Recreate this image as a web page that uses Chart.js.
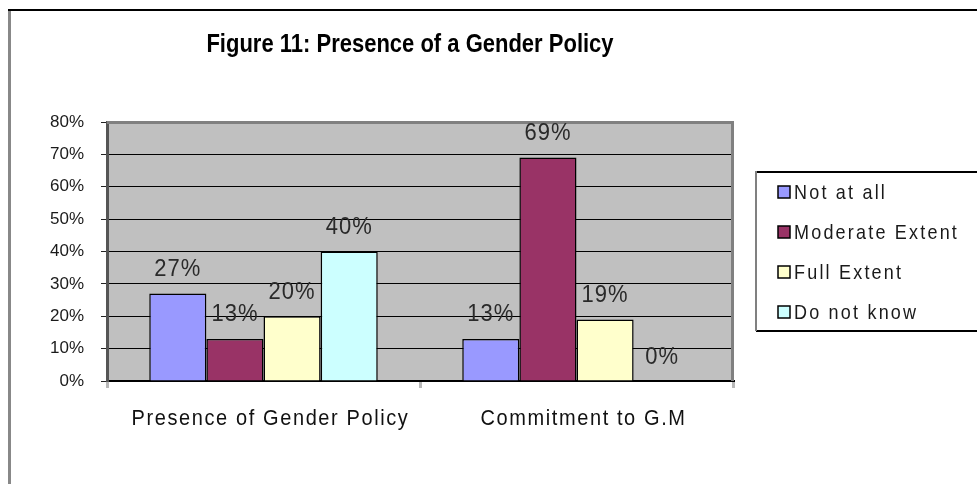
<!DOCTYPE html>
<html><head><meta charset="utf-8">
<script src="https://cdn.jsdelivr.net/npm/chart.js@4.4.0/dist/chart.umd.min.js"></script>
<style>
html,body{margin:0;padding:0;background:#fff;}
#wrap{position:relative;width:977px;height:484px;}
canvas{display:block;}
</style></head><body>
<div id="wrap"><canvas id="c" width="977" height="484"></canvas></div>
<script>
const chartTitle = 'Figure 11: Presence of a Gender Policy';
const categories = ['Presence of Gender Policy', 'Commitment to G.M'];
const seriesNames = ['Not at all', 'Moderate Extent', 'Full Extent', 'Do not know'];
const notAtAll = [27, 13];
const moderateExtent = [13, 69];
const fullExtent = [20, 19];
const doNotKnow = [40, 0];
const yTickLabels = ['0%', '10%', '20%', '30%', '40%', '50%', '60%', '70%', '80%'];
const seriesColors = ['#9999FF', '#993366', '#FFFFCC', '#CCFFFF'];

const FONT = '"Liberation Sans", Arial, sans-serif';

function tallText(ctx, txt, x, y, sy) {
  ctx.save();
  ctx.translate(x, y);
  ctx.scale(1, sy);
  ctx.fillText(txt, 0, 0);
  ctx.restore();
}

const decor = {
  id: 'decor',
  beforeDraw(chart) {
    const ctx = chart.ctx, a = chart.chartArea;
    ctx.save();
    ctx.fillStyle = '#ffffff';
    ctx.fillRect(0, 0, chart.width, chart.height);
    ctx.fillStyle = '#888888';
    ctx.fillRect(8, 10, 3, chart.height - 10);
    ctx.fillStyle = '#000000';
    ctx.fillRect(8, 9, chart.width - 8, 2);
    ctx.fillStyle = '#C0C0C0';
    ctx.fillRect(a.left, a.top, a.right - a.left, a.bottom - a.top);
    ctx.restore();
  },
  beforeDatasetsDraw(chart) {
    const ctx = chart.ctx, a = chart.chartArea;
    ctx.save();
    ctx.fillStyle = '#808080';
    ctx.fillRect(a.left, a.top - 1, a.right - a.left + 1, 3);
    ctx.fillRect(a.right - 2, a.top - 1, 3, a.bottom - a.top + 1);
    ctx.restore();
  },
  afterDatasetsDraw(chart) {
    const ctx = chart.ctx;
    ctx.save();
    ctx.font = '22px ' + FONT;
    ctx.fillStyle = '#2a2a2a';
    ctx.textAlign = 'center';
    ctx.textBaseline = 'middle';
    try { ctx.letterSpacing = '1px'; } catch (e) {}
    chart.data.datasets.forEach((ds, i) => {
      const meta = chart.getDatasetMeta(i);
      meta.data.forEach((el, j) => {
        tallText(ctx, ds.data[j] + '%', el.x, el.y - 24, 1.08);
      });
    });
    const xs = chart.scales.x;
    ctx.font = '20px ' + FONT;
    ctx.fillStyle = '#111';
    try { ctx.letterSpacing = '1.6px'; } catch (e) {}
    chart.data.labels.forEach((lab, i) => {
      tallText(ctx, lab, xs.getPixelForValue(i) + 7, 419, 1.1);
    });
    ctx.restore();
  },
  afterDraw(chart) {
    const ctx = chart.ctx;
    ctx.save();
    ctx.font = 'bold 22px ' + FONT;
    ctx.fillStyle = '#000';
    ctx.textAlign = 'center';
    ctx.textBaseline = 'middle';
    tallText(ctx, chartTitle, 410, 45, 1.15);
    const lx = 756, ly = 172, lb = 331;
    ctx.fillStyle = '#fff';
    ctx.fillRect(lx, ly, chart.width - lx, lb - ly);
    ctx.fillStyle = '#000';
    ctx.fillRect(lx, ly - 1, chart.width - lx, 2);
    ctx.fillRect(lx, lb - 1, chart.width - lx, 2);
    ctx.fillStyle = '#808080';
    ctx.fillRect(lx - 1, ly - 1, 2, lb - ly + 1);
    ctx.font = '18px ' + FONT;
    ctx.textAlign = 'left';
    try { ctx.letterSpacing = '2.2px'; } catch (e) {}
    chart.data.datasets.forEach((ds, i) => {
      const cy = 192 + i * 40;
      ctx.fillStyle = ds.backgroundColor;
      ctx.fillRect(778, cy - 6, 12, 12);
      ctx.strokeStyle = '#000';
      ctx.lineWidth = 1.5;
      ctx.strokeRect(778, cy - 6, 12, 12);
      ctx.fillStyle = '#1a1a1a';
      tallText(ctx, ds.label, 794, cy + 1, 1.12);
    });
    ctx.restore();
  }
};

const series = [notAtAll, moderateExtent, fullExtent, doNotKnow];
new Chart(document.getElementById('c'), {
  type: 'bar',
  data: {
    labels: categories,
    datasets: series.map((d, i) => ({
      label: seriesNames[i],
      data: d,
      backgroundColor: seriesColors[i],
      borderColor: '#000',
      borderWidth: 1.5,
      barPercentage: 1,
      categoryPercentage: 0.73
    }))
  },
  options: {
    responsive: false,
    animation: false,
    devicePixelRatio: 1,
    layout: { padding: { left: 0, top: 122, right: 244, bottom: 103 } },
    plugins: { legend: { display: false }, title: { display: false }, tooltip: { enabled: false } },
    scales: {
      x: {
        offset: true,
        grid: { drawOnChartArea: false, drawTicks: true, tickLength: 7, tickColor: '#b8b8b8', lineWidth: 3 },
        border: { color: '#000', width: 2 },
        ticks: { display: false },
        afterFit: s => { s.height = 0; }
      },
      y: {
        min: 0, max: 80,
        ticks: {
          stepSize: 10,
          callback: v => yTickLabels[Math.round(v / 10)],
          font: { size: 17, family: FONT },
          color: '#1a1a1a',
          padding: 17
        },
        grid: { color: '#000', lineWidth: 1, tickColor: '#222', tickLength: 6 },
        border: { color: '#555', width: 3 },
        afterFit: s => { s.width = 107; }
      }
    }
  },
  plugins: [decor]
});
</script>
</body></html>
